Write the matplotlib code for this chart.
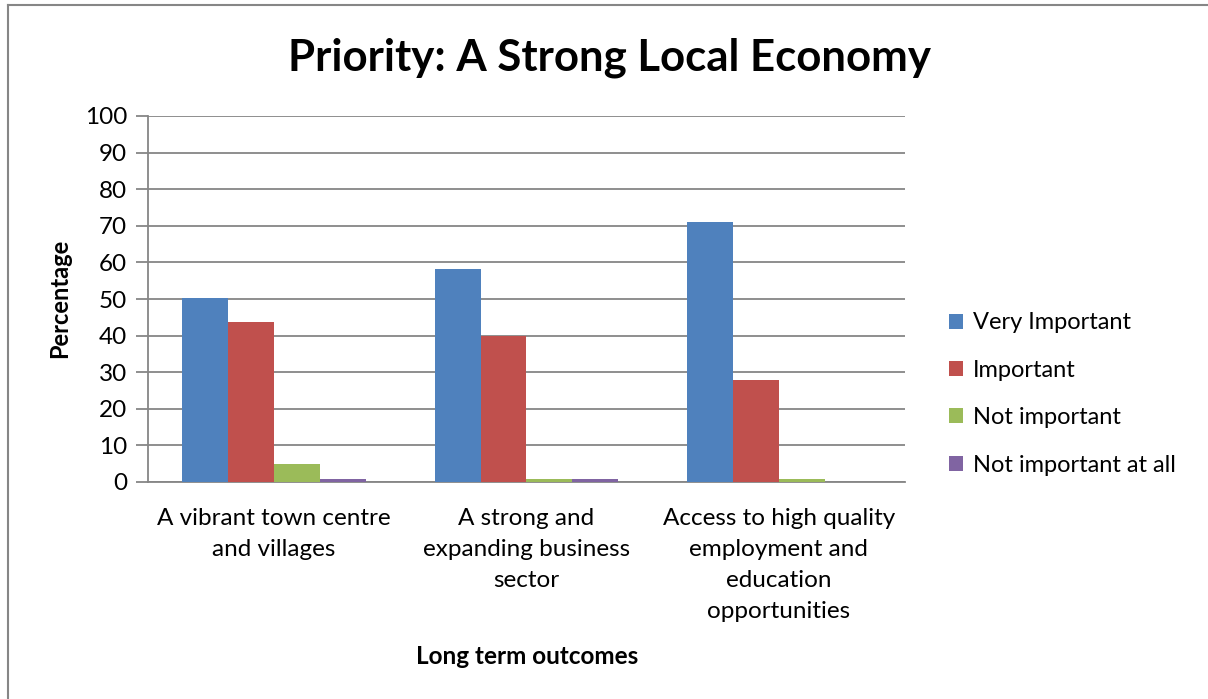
import matplotlib.pyplot as plt
import numpy as np
from matplotlib.lines import Line2D
from matplotlib.patches import Patch

plt.rcParams['font.family'] = ['Lato', 'DejaVu Sans']

# survey results, percent of respondents
outcomes = ['A vibrant town centre\nand villages',
            'A strong and\nexpanding business\nsector',
            'Access to high quality\nemployment and\neducation\nopportunities']
series = ['Very Important', 'Important', 'Not important', 'Not important at all']
very_important = [50.4, 58.3, 71.0]
important = [43.8, 40.0, 28.0]
not_important = [5.0, 0.8, 0.8]
not_at_all = [0.8, 0.8, 0.0]
colours = ['#4f81bd', '#c0504d', '#9bbb59', '#8064a2']

W, H = 1208, 699
fig = plt.figure(figsize=(W / 100, H / 100), dpi=100)
ax = fig.add_axes([148 / W, 1 - 482 / H, (905 - 148) / W, (482 - 116) / H])

x = np.arange(len(outcomes))
width = 1 / 5.5
values = [very_important, important, not_important, not_at_all]
for i, (vals, col) in enumerate(zip(values, colours)):
    ax.bar(x - 1.5 * width + i * width, vals, width, color=col, zorder=3)

ax.set_xlim(-0.5, 2.5)
ax.set_ylim(0, 100)
ax.set_yticks(range(0, 101, 10))
ax.yaxis.grid(True, color='#868686', linewidth=1.3, zorder=0)
ax.set_xticks(x)
ax.set_xticklabels(outcomes, fontsize=17.5, linespacing=1.58)
ax.tick_params(axis='x', length=0, pad=19)
ax.tick_params(axis='y', labelsize=17.5, length=9, width=1.3, color='#868686', pad=6)
for s in ['top', 'right']:
    ax.spines[s].set_visible(False)
for s in ['left', 'bottom']:
    ax.spines[s].set_color('#868686')
    ax.spines[s].set_linewidth(1.3)

fig.text(60 / W, 1 - 298 / H, 'Percentage', fontsize=17, fontweight='bold',
         rotation=90, ha='center', va='center')
fig.text(527 / W, 1 - 657 / H, 'Long term outcomes', fontsize=17.5,
         fontweight='bold', ha='center', va='center')
fig.text(610 / W, 1 - 58 / H, 'Priority: A Strong Local Economy', fontsize=31.5,
         fontweight='bold', ha='center', va='center')

handles = [Patch(facecolor=c) for c in colours]
fig.legend(handles, series, loc='center left', bbox_to_anchor=(928 / W, 1 - 394 / H),
           frameon=False, fontsize=17, handlelength=0.6, handleheight=0.6,
           handletextpad=0.4, labelspacing=1.12)

# chart frame, left and top edges
fig.add_artist(Line2D([8 / W, 8 / W], [0, 1 - 5 / H], color='#868686', linewidth=1.5))
fig.add_artist(Line2D([8 / W, 1], [1 - 5 / H, 1 - 5 / H], color='#868686', linewidth=1.5))

fig.savefig('out.png', dpi=100, facecolor='white')
